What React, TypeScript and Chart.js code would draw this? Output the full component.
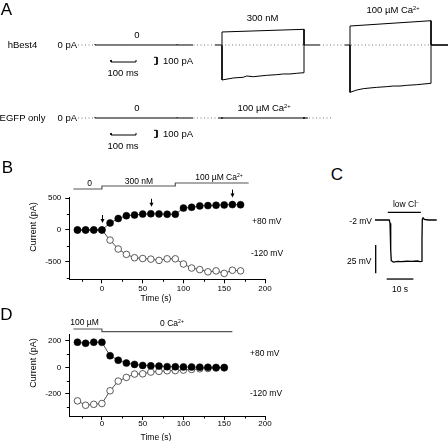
import React, { useEffect, useRef } from 'react';
import { Chart, registerables } from 'chart.js';
Chart.register(...registerables);

const FONT = '"Liberation Sans", Arial, Helvetica, sans-serif';

// ---------- Panel A (display time axis in ms, current in pA) ----------
const aZeroRef1 = [[312, 0], [1724, 0]];
const aCtrl1 = [[380, 0], [380, 10], [380, 0], [708, 0], [708, 10], [708, 0], [772, 0]];
const a300Up = [[860, 0], [888, 0], [888, 186], [1216, 224], [1216, 0], [1280, 0]];
const a300Down = [[888, 0], [888, -500], [933, -471], [973, -461], [987, -443], [1013, -453], [1067, -433], [1107, -424], [1133, -414], [1160, -414], [1187, -404], [1216, -396], [1216, 0]];
const aCaUp = [[1380, 0], [1400, 0], [1400, 271], [1724, 347], [1724, 0]];
const aCaDown = [[1400, 0], [1400, -676], [1427, -643], [1453, -624], [1480, -614], [1507, -605], [1547, -595], [1573, -586], [1600, -586], [1627, -576], [1667, -567], [1724, -547], [1724, 0]];
const aCaTail = [[1724, 0], [1792, 0]];
const aZeroRef2 = [[312, 0], [1332, 0]];
const aCtrl2 = [[380, 0], [380, 10], [380, 0], [708, 0], [708, 10], [708, 0], [772, 0]];
const aEgfpCa = [[872, 0], [888, 0], [888, 14], [888, -14], [888, 0], [1216, 0], [1216, 14], [1216, -14], [1216, 0], [1232, 0]];
const aBarTime = [[444, -214], [444, -243], [544, -243], [544, -214]];
const aBarCurrent = [[616, -176], [628, -176], [628, -276], [616, -276]];

// ---------- Panel B ----------
const timeB = [-30, -20, -10, 0, 10, 20, 30, 40, 50, 60, 70, 80, 90, 100, 110, 120, 130, 140, 150, 160, 170];
const plus80B = [0, 0, 0, 0, 110, 180, 225, 236, 250, 255, 253, 248, 248, 345, 358, 380, 384, 390, 395, 400, 398];
const minus120B = [0, 0, 0, 0, -160, -300, -385, -438, -450, -460, -480, -455, -455, -537, -600, -625, -660, -645, -685, -635, -645];
const arrowTimesB = [0, 60, 160];
const solBoundsB = [-35, 0, 90, 180];
const solLevelsB = [0, 1, 2];
const xMajor = [0, 50, 100, 150, 200];
const xMinor = [-25, 25, 75, 125, 175];
const yMajorB = [-500, 0, 500];
const yMinorB = [-750, -250, 250];

// ---------- Panel C (time s, potential mV) ----------
const cTrace = [[0, -2], [5.36, -2], [5.63, -4.9], [5.89, -28.5], [6.11, -37.9], [6.86, -39.1], [8.5, -38.6], [10.0, -38.8], [12.0, -38.4], [13.76, -38.5], [15.86, -38.2], [16.87, -38.8], [17.51, -38.5], [17.62, -19.7], [17.74, -1.4], [18.0, -0.2], [18.49, -1.4], [19.99, -2], [23.14, -2]];
const cLowCl = [[4.8, 4.8], [17.2, 4.8]];
const cBarV = [[0.26, -24.07], [0.26, -49.0]];
const cBarT = [[4.39, -54.1], [14.39, -54.1]];

// ---------- Panel D ----------
const timeD = [-30, -20, -10, 0, 10, 20, 30, 40, 50, 60, 70, 80, 90, 100, 110, 120, 130, 140, 150];
const plus80D = [190, 182, 190, 189, 88, 54, 33, 23, 15, 12, 10, 6, 5, 4, 3, 2, 1, 0, 0];
const minus120D = [-252, -285, -278, -272, -176, -103, -75, -50, -48, -35, -30, -25, -24, -20, -15, -10, -8, -5, -4];
const solBoundsD = [-35, 0, 160];
const solLevelsD = [1, 0];
const yMajorD = [-200, 0, 200];
const yMinorD = [-300, -100, 100];

const pts = (xs: number[], ys: number[]) => xs.map((x, i) => ({ x, y: ys[i] }));
const xy = (arr: number[][]) => arr.map(([x, y]) => ({ x, y }));
const steps = (b: number[], l: number[]) => {
  const out: any[] = [];
  l.forEach((L, i) => { out.push({ x: b[i], y: L }); out.push({ x: b[i + 1], y: L }); });
  return out;
};
const seg = (data: number[][], yAxisID: string, extra: any = {}) => ({
  data: xy(data), yAxisID, borderColor: '#000', borderWidth: 1, pointRadius: 0, tension: 0, fill: false, ...extra,
});

const tickFont = { family: FONT, size: 8 };
const gridOpt = { display: true, drawOnChartArea: false, drawTicks: true, tickLength: 4, color: '#000', lineWidth: 1 };
const borderOpt = { display: true, color: '#000', width: 1 };

const xAxis = (height: number, pad: number) => ({
  type: 'linear', position: 'bottom', min: -40, max: 200,
  afterBuildTicks: (s: any) => { s.ticks = xMajor.map(v => ({ value: v })); },
  afterFit: (s: any) => { s.height = height; },
  grid: gridOpt, border: borderOpt,
  ticks: { font: tickFont, color: '#000', padding: pad, maxRotation: 0, autoSkip: false },
  title: { display: false },
});
const yAxis = (min: number, max: number, major: number[]) => ({
  type: 'linear', position: 'left', min, max,
  afterBuildTicks: (s: any) => { s.ticks = major.map(v => ({ value: v })); },
  afterFit: (s: any) => { s.width = 69.3; },
  grid: gridOpt, border: borderOpt,
  ticks: { font: tickFont, color: '#000', padding: 4, autoSkip: false },
  title: { display: false },
});

const minorTicks = (mx: number[], my: number[]) => ({
  id: 'minor',
  afterDraw(chart: any) {
    const { ctx } = chart; const xs = chart.scales.x; const ys = chart.scales.y;
    ctx.save(); ctx.strokeStyle = '#000'; ctx.lineWidth = 1; ctx.beginPath();
    mx.forEach(v => { const p = Math.round(xs.getPixelForValue(v)) + 0.5; ctx.moveTo(p, xs.top); ctx.lineTo(p, xs.top + 2.5); });
    my.forEach(v => { const p = Math.round(ys.getPixelForValue(v)) + 0.5; ctx.moveTo(ys.right, p); ctx.lineTo(ys.right - 2.5, p); });
    ctx.stroke(); ctx.restore();
  },
});

const arrowsB = {
  id: 'arrows',
  afterDraw(chart: any) {
    const { ctx } = chart; const xs = chart.scales.x; const ys = chart.scales.y;
    ctx.save(); ctx.strokeStyle = '#000'; ctx.fillStyle = '#000'; ctx.lineWidth = 1;
    arrowTimesB.forEach(t => {
      const i = timeB.indexOf(t);
      const px = Math.round(xs.getPixelForValue(t)) + 0.5;
      const tip = ys.getPixelForValue(plus80B[i]) - 7;
      ctx.beginPath(); ctx.moveTo(px, tip - 8); ctx.lineTo(px, tip - 2); ctx.stroke();
      ctx.beginPath(); ctx.moveTo(px, tip); ctx.lineTo(px - 2, tip - 4); ctx.lineTo(px + 2, tip - 4); ctx.closePath(); ctx.fill();
    });
    ctx.restore();
  },
};

const baseOpts = { animation: false, responsive: false, events: [], plugins: { legend: { display: false }, tooltip: { enabled: false } } };

const filledDs = (data: any) => ({ data, borderColor: '#000', borderWidth: 0.7, pointRadius: 3.5, pointBackgroundColor: '#000', pointBorderColor: '#000', pointBorderWidth: 0.5, tension: 0, order: 1 });
const openDs = (data: any) => ({ data, borderColor: '#000', borderWidth: 0.7, pointRadius: 3.3, pointBackgroundColor: '#fff', pointBorderColor: '#333', pointBorderWidth: 0.8, tension: 0, order: 2 });
const solDs = (data: any) => ({ data, yAxisID: 'yS', borderColor: '#555', borderWidth: 1.2, pointRadius: 0, tension: 0, clip: false, order: 3 });

const cfgA = () => ({
  type: 'line',
  data: {
    datasets: [
      seg(aZeroRef1, 'y1', { borderColor: '#777', borderDash: [1, 2.5], borderWidth: 1 }),
      seg(aCtrl1, 'y1'), seg(a300Up, 'y1'), seg(a300Down, 'y1'), seg(aCaUp, 'y1'), seg(aCaDown, 'y1'),
      seg(aCaTail, 'y1', { borderWidth: 1.6 }), seg(aBarTime, 'y1'), seg(aBarCurrent, 'y1'),
      seg(aZeroRef2, 'y2', { borderColor: '#777', borderDash: [1, 2.5], borderWidth: 1 }),
      seg(aCtrl2, 'y2'), seg(aEgfpCa, 'y2'), seg(aBarTime, 'y2'), seg(aBarCurrent, 'y2'),
    ],
  },
  options: {
    ...baseOpts, layout: { padding: 0 },
    scales: {
      x: { type: 'linear', display: false, min: 0, max: 1792 },
      y1: { axis: 'y', type: 'linear', display: false, min: -1500, max: 642.857 },
      y2: { axis: 'y', type: 'linear', display: false, min: -457.14, max: 1685.71 },
    },
  },
});

const cfgB = () => ({
  type: 'line',
  data: { datasets: [filledDs(pts(timeB, plus80B)), openDs(pts(timeB, minus120B)), solDs(steps(solBoundsB, solLevelsB))] },
  options: {
    ...baseOpts, layout: { padding: { top: 27, right: 25, left: 0, bottom: 0 } },
    scales: { x: xAxis(24.7, 0.5), y: yAxis(-778, 520, yMajorB), yS: { axis: 'y', type: 'linear', display: false, min: -30.1, max: -2.667 } },
  },
  plugins: [minorTicks(xMinor, yMinorB), arrowsB],
});

const cfgD = () => ({
  type: 'line',
  data: { datasets: [filledDs(pts(timeD, plus80D)), openDs(pts(timeD, minus120D)), solDs(steps(solBoundsD, solLevelsD))] },
  options: {
    ...baseOpts, layout: { padding: { top: 24, right: 25, left: 0, bottom: 0 } },
    scales: { x: xAxis(25, -1.5), y: yAxis(-366, 252, yMajorD), yS: { axis: 'y', type: 'linear', display: false, min: -31.2, max: -0.852 } },
  },
  plugins: [minorTicks(xMinor, yMinorD)],
});

const cfgC = () => ({
  type: 'line',
  data: {
    datasets: [
      seg(cTrace, 'y', { borderWidth: 1.3 }), seg(cLowCl, 'y', { borderWidth: 1.3 }),
      seg(cBarV, 'y', { borderWidth: 1.3 }), seg(cBarT, 'y', { borderWidth: 1.3 }),
    ],
  },
  options: {
    ...baseOpts, layout: { padding: 0 },
    scales: { x: { type: 'linear', display: false, min: -16.875, max: 27.375 }, y: { type: 'linear', display: false, min: -72.6, max: 20.06 } },
  },
});

function ChartBox({ left, top, width, height, config }: any) {
  const ref = useRef<HTMLCanvasElement>(null);
  useEffect(() => {
    const c = new Chart(ref.current as HTMLCanvasElement, config() as any);
    return () => c.destroy();
  }, []);
  return <canvas ref={ref} width={width} height={height} style={{ position: 'absolute', left, top, width, height }} />;
}

function T({ x, y, a = 'c', s = 9, r = false, children }: any) {
  let tr = a === 'c' ? 'translate(-50%,-50%)' : a === 'l' ? 'translate(0,-50%)' : 'translate(-100%,-50%)';
  if (r) tr += ' rotate(-90deg)';
  return (
    <div style={{ position: 'absolute', left: x, top: y, transform: tr, fontSize: s, lineHeight: 1, whiteSpace: 'nowrap', fontFamily: FONT, color: '#000' }}>
      {children}
    </div>
  );
}
const Sup = ({ children }: any) => <span style={{ fontSize: '0.6em', position: 'relative', top: '-0.55em' }}>{children}</span>;

export default function App() {
  const L = 9.5;
  const M = 8.5;
  return (
    <div style={{ position: 'fixed', left: 0, top: 0, width: 448, height: 441, background: '#fff', overflow: 'hidden' }}>
      <ChartBox left={0} top={0} width={448} height={150} config={cfgA} />
      <ChartBox left={0} top={170} width={290} height={134} config={cfgB} />
      <ChartBox left={330} top={195} width={118} height={105} config={cfgC} />
      <ChartBox left={0} top={310} width={290} height={131} config={cfgD} />

      <T x={6.5} y={9} s={17}>A</T>
      <T x={7.5} y={167} s={17}>B</T>
      <T x={337} y={174} s={17}>C</T>
      <T x={6.5} y={314} s={17}>D</T>

      <T x={22.5} y={44.5} s={L}>hBest4</T>
      <T x={77} y={44.5} a="r" s={L}>0 pA</T>
      <T x={137} y={34.5} s={L}>0</T>
      <T x={123} y={72.5} s={L}>100 ms</T>
      <T x={163} y={61} a="l" s={L}>100 pA</T>
      <T x={262.5} y={17.5} s={L}>300 nM</T>
      <T x={393} y={10} s={L}>100 µM Ca<Sup>2+</Sup></T>

      <T x={22.5} y={118} s={L}>EGFP only</T>
      <T x={77} y={118} a="r" s={L}>0 pA</T>
      <T x={137} y={107.5} s={L}>0</T>
      <T x={123} y={145.5} s={L}>100 ms</T>
      <T x={163} y={134} a="l" s={L}>100 pA</T>
      <T x={264} y={108} s={L}>100 µM Ca<Sup>2+</Sup></T>

      <T x={89.5} y={182.5} s={M}>0</T>
      <T x={139} y={180.5} s={M}>300 nM</T>
      <T x={219} y={176.5} s={M}>100 µM Ca<Sup>2+</Sup></T>
      <T x={252} y={220.5} a="l" s={M}>+80 mV</T>
      <T x={251} y={253} a="l" s={M}>-120 mV</T>
      <T x={33} y={227} s={9} r>Current (pA)</T>
      <T x={156} y={298} s={M}>Time (s)</T>

      <T x={406} y={204} s={M}>low Cl<Sup>−</Sup></T>
      <T x={372} y={220.5} a="r" s={M}>-2 mV</T>
      <T x={371.5} y={260.5} a="r" s={M}>25 mV</T>
      <T x={400} y={289} s={M}>10 s</T>

      <T x={84.5} y={322} s={M}>100 µM</T>
      <T x={172} y={323} s={M}>0 Ca<Sup>2+</Sup></T>
      <T x={250} y={352.5} a="l" s={M}>+80 mV</T>
      <T x={250} y={393} a="l" s={M}>-120 mV</T>
      <T x={33} y={363} s={9} r>Current (pA)</T>
      <T x={156} y={436.5} s={M}>Time (s)</T>
    </div>
  );
}
